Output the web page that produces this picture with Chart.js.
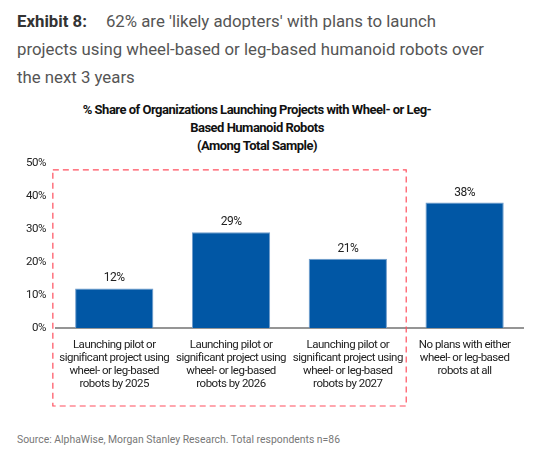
<!DOCTYPE html>
<html>
<head>
<meta charset="utf-8">
<script src="https://cdn.jsdelivr.net/npm/chart.js@4.4.1/dist/chart.umd.min.js"></script>
<style>
  html, body { margin: 0; padding: 0; background: #fff; }
  body { width: 550px; height: 459px; position: relative; overflow: hidden; font-family: Roboto, "Liberation Sans", sans-serif; }
  #header { position: absolute; left: 17px; top: 7px; width: 530px; font-size: 16.8px; line-height: 28px; color: #555; white-space: nowrap; }
  #header b { color: #333; margin-right: 19px; }
  #chartTitle { position: absolute; left: 0; top: 101px; width: 514px; text-align: center; font-size: 13px; font-weight: bold; line-height: 18px; letter-spacing: -0.5px; color: #111; }
  #wrap { position: absolute; left: 0; top: 146px; width: 550px; height: 270px; }
  #source { position: absolute; left: 17px; top: 433px; font-size: 10.4px; color: #777; }
</style>
</head>
<body>
<div id="header"><b>Exhibit 8:</b>62% are 'likely adopters' with plans to launch<br>projects using wheel-based or leg-based humanoid robots over<br>the next 3 years</div>
<div id="chartTitle"></div>
<div id="wrap"><canvas id="robotChart"></canvas></div>
<div id="source">Source: AlphaWise, Morgan Stanley Research. Total respondents n=86</div>
<script>
const categories = [
  ["Launching pilot or", "significant project using", "wheel- or leg-based", "robots by 2025"],
  ["Launching pilot or", "significant project using", "wheel- or leg-based", "robots by 2026"],
  ["Launching pilot or", "significant project using", "wheel- or leg-based", "robots by 2027"],
  ["No plans with either", "wheel- or leg-based", "robots at all"]
];
const shareValues = [12, 29, 21, 38];
const yTicks = [0, 10, 20, 30, 40, 50];
const chartTitle = ["% Share of Organizations Launching Projects with Wheel- or Leg-", "Based Humanoid Robots", "(Among Total Sample)"];

const chartFont = 'Roboto, sans-serif';

// title sits over the plot, not over the whole canvas, so it is placed by hand
const titleEl = document.getElementById('chartTitle');
chartTitle.forEach((line, i) => {
  if (i > 0) titleEl.appendChild(document.createElement('br'));
  titleEl.appendChild(document.createTextNode(line));
});

// the source uses a condensed face; tighten the letters a bit instead
const tightText = {
  id: 'tightText',
  beforeUpdate(chart) { chart.ctx.letterSpacing = '-0.5px'; },
  beforeDraw(chart) { chart.ctx.letterSpacing = '-0.5px'; }
};

// value labels above each bar
const valueLabels = {
  id: 'valueLabels',
  afterDatasetsDraw(chart) {
    const ctx = chart.ctx;
    const meta = chart.getDatasetMeta(0);
    ctx.save();
    ctx.font = '12px ' + chartFont;
    ctx.fillStyle = '#222';
    ctx.textAlign = 'center';
    ctx.textBaseline = 'bottom';
    meta.data.forEach((bar, i) => {
      ctx.fillText(shareValues[i] + '%', bar.x, bar.y - 4);
    });
    ctx.restore();
  }
};

// red dashed box round the "likely adopters" group
const adopterBox = {
  id: 'adopterBox',
  afterDraw(chart) {
    const { ctx, chartArea, scales } = chart;
    const left = chartArea.left - 3;
    const right = scales.x.getPixelForValue(2.5);
    const top = chartArea.top + 7;
    const bottom = chartArea.bottom + 78;
    ctx.save();
    ctx.strokeStyle = '#ff4f5e';
    ctx.lineWidth = 1.2;
    ctx.setLineDash([6, 4]);
    ctx.strokeRect(left, top, right - left, bottom - top);
    ctx.restore();
  }
};

const ctx = document.getElementById('robotChart').getContext('2d');
new Chart(ctx, {
  type: 'bar',
  data: {
    labels: categories,
    datasets: [{
      data: shareValues,
      backgroundColor: '#0157a5',
      borderColor: '#6f9ccc',
      borderWidth: 1,
      barPercentage: 0.67,
      categoryPercentage: 1.0
    }]
  },
  options: {
    responsive: true,
    maintainAspectRatio: false,
    animation: false,
    layout: { padding: { left: 16, right: 27, top: 5, bottom: 22 } },
    plugins: {
      legend: { display: false },
      tooltip: { enabled: false },
      title: { display: false }
    },
    scales: {
      x: {
        grid: { display: false },
        border: { color: '#959595', width: 2 },
        ticks: {
          color: '#222',
          font: { family: chartFont, size: 11.5, lineHeight: 1.13 },
          maxRotation: 0,
          autoSkip: false,
          padding: 3
        }
      },
      y: {
        min: 0,
        max: 50,
        afterBuildTicks(axis) { axis.ticks = yTicks.map(v => ({ value: v })); },
        grid: { display: false, drawTicks: false },
        border: { display: false },
        ticks: {
          color: '#222',
          font: { family: chartFont, size: 11.5 },
          padding: 10,
          callback: v => v + '%'
        }
      }
    }
  },
  plugins: [tightText, valueLabels, adopterBox]
});
</script>
</body>
</html>
